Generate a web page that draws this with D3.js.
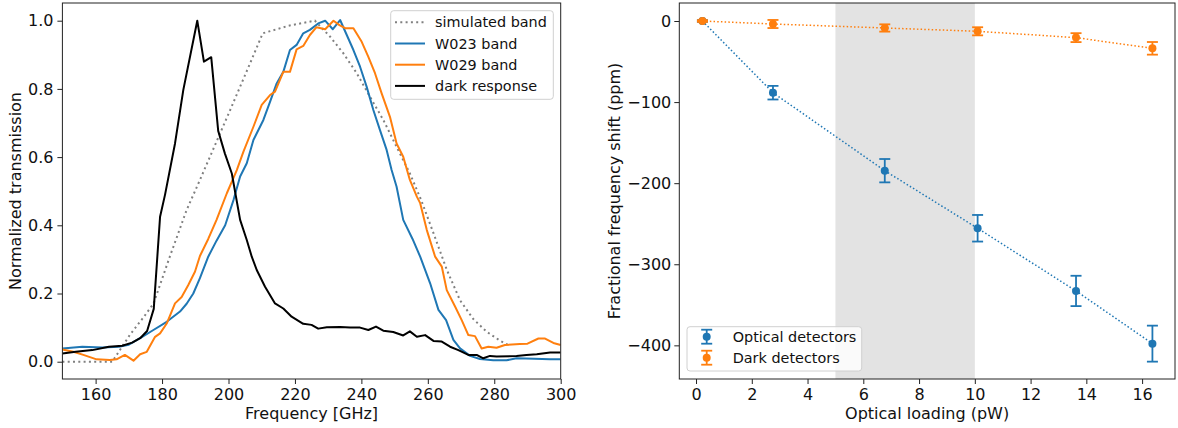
<!DOCTYPE html>
<html>
<head>
<meta charset="utf-8">
<script src="https://cdn.jsdelivr.net/npm/d3@7"></script>
<style>
  body { margin: 0; background: #fff; }
  svg { display: block; font-family: "DejaVu Sans", sans-serif; }
</style>
</head>
<body>
<svg id="chart" width="1178" height="428"></svg>
<script>
// ---------- Left panel data ----------
const simFreq = [150, 165, 170.4, 174.4, 177.4, 182.4, 187.4, 191.4, 200.5, 206.5, 210.3, 218, 226, 230.6, 234.6, 238.6, 242.6, 246.6, 250.6, 254.6, 258, 261.7, 265.7, 269.7, 273.7, 277.7, 281.7, 284];
const simVal  = [0, 0, 0.08, 0.13, 0.17, 0.31, 0.445, 0.533, 0.738, 0.875, 0.963, 0.985, 1.0, 0.953, 0.904, 0.846, 0.777, 0.709, 0.63, 0.552, 0.474, 0.377, 0.27, 0.18, 0.125, 0.088, 0.062, 0.05];

const w023Freq = [150, 156, 162, 167, 170, 173.4, 177.4, 181.4, 185.4, 187.4, 189.4, 191.4, 193.9, 196.4, 199, 201.5, 203.5, 205.5, 207.5, 210.5, 212.5, 214.5, 216.5, 218.5, 220.5, 222.5, 224.5, 227, 229.1, 231.4, 233.6, 235.6, 237.6, 239.6, 241.6, 243.6, 245.6, 247.6, 249.1, 250.6, 252.6, 255.4, 257.7, 260.7, 263.2, 265.5, 267.7, 269.7, 272.7, 275.7, 279.7, 283.7, 286.7, 292, 296.8, 300];
const w023Val  = [0.039, 0.044, 0.042, 0.044, 0.05, 0.069, 0.093, 0.117, 0.147, 0.17, 0.2, 0.245, 0.308, 0.355, 0.4, 0.474, 0.543, 0.582, 0.65, 0.709, 0.762, 0.816, 0.85, 0.914, 0.929, 0.963, 0.973, 0.992, 1.0, 0.975, 1.002, 0.958, 0.914, 0.865, 0.806, 0.738, 0.679, 0.621, 0.562, 0.513, 0.416, 0.36, 0.308, 0.23, 0.152, 0.122, 0.064, 0.039, 0.017, 0.008, 0.004, 0.004, 0.01, 0.009, 0.007, 0.007];

const w029Freq = [150, 153.3, 156.3, 160.3, 164.3, 166.3, 168.8, 171.4, 173.4, 175.4, 177.9, 179.4, 181.4, 183.9, 185.9, 187.9, 189.9, 191.4, 193.9, 196.4, 199.5, 202.5, 204.5, 207.5, 210, 212.5, 214, 216.5, 218.5, 220.5, 222.5, 224.5, 226.5, 229.1, 231.6, 233.4, 235.1, 237.6, 240.1, 242.1, 244.1, 246.1, 248.6, 250.6, 252.6, 254.6, 256.7, 257.7, 259.7, 262.2, 264.2, 265.7, 268.2, 270.2, 272.2, 274.2, 276.2, 278.2, 280.7, 283.2, 287.7, 290, 293.3, 295.3, 297.8, 300];
const w029Val  = [0.036, 0.029, 0.02, 0.007, 0.005, 0.007, 0.02, 0.003, 0.022, 0.029, 0.073, 0.083, 0.112, 0.171, 0.19, 0.225, 0.264, 0.31, 0.36, 0.416, 0.494, 0.562, 0.616, 0.689, 0.753, 0.782, 0.792, 0.85, 0.85, 0.916, 0.926, 0.958, 0.981, 0.975, 1.0, 0.987, 0.978, 0.978, 0.938, 0.894, 0.846, 0.787, 0.718, 0.64, 0.601, 0.533, 0.484, 0.465, 0.386, 0.308, 0.279, 0.21, 0.162, 0.122, 0.078, 0.075, 0.039, 0.044, 0.041, 0.049, 0.052, 0.053, 0.068, 0.068, 0.055, 0.049];

const darkFreq = [150, 154, 159, 164, 168, 171, 173.4, 175.5, 177.5, 179.4, 180.9, 183.9, 186.4, 190.6, 192.6, 194.8, 196.9, 198.9, 201, 203.5, 205.5, 207, 208.5, 211, 214, 216.5, 219, 222.5, 225, 227, 229.6, 233.6, 236.6, 239.6, 242.1, 244.4, 246.6, 249.6, 252.6, 254.6, 256.7, 259.2, 261.7, 264.2, 266.7, 269.2, 272.2, 274.7, 276.7, 278.7, 280.7, 286.7, 289.7, 292.8, 296.8, 300];
const darkVal  = [0.024, 0.029, 0.034, 0.044, 0.047, 0.056, 0.069, 0.09, 0.155, 0.425, 0.49, 0.64, 0.797, 1.0, 0.88, 0.893, 0.677, 0.611, 0.552, 0.416, 0.357, 0.308, 0.269, 0.22, 0.171, 0.156, 0.132, 0.111, 0.108, 0.097, 0.101, 0.102, 0.1, 0.1, 0.093, 0.103, 0.091, 0.087, 0.077, 0.089, 0.073, 0.078, 0.061, 0.059, 0.044, 0.034, 0.02, 0.02, 0.01, 0.017, 0.015, 0.017, 0.02, 0.022, 0.027, 0.027];

const leftXTicks = [160, 180, 200, 220, 240, 260, 280, 300];
const leftYTicks = [0, 0.2, 0.4, 0.6, 0.8, 1.0];
const leftLegendLabels = ["simulated band", "W023 band", "W029 band", "dark response"];

// ---------- Right panel data ----------
const loading = [0.23, 2.76, 6.77, 10.1, 13.63, 16.37];
const opticalShift = [0, -88.4, -184.6, -255.6, -332.9, -397.9];
const opticalErr   = [1, 8.4, 14.4, 16.4, 18.7, 22.2];
const darkShift    = [0, -3.7, -8.6, -12.7, -20.5, -33.7];
const darkErr      = [1, 5, 4.5, 5, 5.5, 7.8];
const spanRange    = [5, 10];
const rightXTicks = [0, 2, 4, 6, 8, 10, 12, 14, 16];
const rightYTicks = [0, -100, -200, -300, -400];
const rightLegendLabels = ["Optical detectors", "Dark detectors"];

const BLUE = "#1f77b4", ORANGE = "#ff7f0e";
const svg = d3.select("#chart");
const FS = 16;

function frame(g, x0, y0, x1, y1) {
  g.append("rect").attr("x", x0).attr("y", y0).attr("width", x1 - x0).attr("height", y1 - y0)
    .attr("fill", "none").attr("stroke", "#222").attr("stroke-width", 1);
}
function styleAxis(sel) {
  sel.select(".domain").remove();
  sel.selectAll(".tick line").attr("stroke", "#222").attr("stroke-width", 1);
  sel.selectAll(".tick text").attr("fill", "#111").style("font-size", FS + "px")
     .style("font-family", "DejaVu Sans, sans-serif");
}

// ================= LEFT =================
const L = {x0: 62.4, x1: 560.7, y0: 3, y1: 379};
const xL = d3.scaleLinear().domain([150, 300]).range([L.x0, L.x1]);
const yL = d3.scaleLinear().domain([-0.0507, 1.0519]).range([L.y1, L.y0]);

const gL = svg.append("g");
const clipL = svg.append("clipPath").attr("id", "clipL").append("rect")
  .attr("x", L.x0).attr("y", L.y0).attr("width", L.x1 - L.x0).attr("height", L.y1 - L.y0);

const lineL = (fx, vy) => d3.line().x((d, i) => xL(fx[i])).y((d, i) => yL(vy[i]))(fx);
const curves = gL.append("g").attr("clip-path", "url(#clipL)");
curves.append("path").attr("d", lineL(simFreq, simVal)).attr("fill", "none")
  .attr("stroke", "#808080").attr("stroke-width", 2).attr("stroke-dasharray", "2,3.3");
curves.append("path").attr("d", lineL(w023Freq, w023Val)).attr("fill", "none")
  .attr("stroke", BLUE).attr("stroke-width", 2).attr("stroke-linejoin", "round");
curves.append("path").attr("d", lineL(w029Freq, w029Val)).attr("fill", "none")
  .attr("stroke", ORANGE).attr("stroke-width", 2).attr("stroke-linejoin", "round");
curves.append("path").attr("d", lineL(darkFreq, darkVal)).attr("fill", "none")
  .attr("stroke", "#000").attr("stroke-width", 2).attr("stroke-linejoin", "round");

gL.append("g").attr("transform", `translate(0,${L.y1})`)
  .call(d3.axisBottom(xL).tickValues(leftXTicks).tickFormat(d3.format("d")).tickSize(5).tickPadding(4.6))
  .call(styleAxis);
gL.append("g").attr("transform", `translate(${L.x0},0)`)
  .call(d3.axisLeft(yL).tickValues(leftYTicks).tickFormat(d3.format(".1f")).tickSize(5).tickPadding(4))
  .call(styleAxis);
frame(gL, L.x0, L.y0, L.x1, L.y1);

gL.append("text").attr("x", (L.x0 + L.x1) / 2).attr("y", 419).attr("text-anchor", "middle")
  .style("font-size", FS + "px").attr("fill", "#111").text("Frequency [GHz]");
gL.append("text").attr("transform", `translate(15,${(L.y0 + L.y1) / 2}) rotate(-90)`).attr("dy", "0.35em")
  .attr("text-anchor", "middle").style("font-size", FS + "px").attr("fill", "#111").text("Normalized transmission");

// legend left
const legL = gL.append("g");
legL.append("rect").attr("x", 390.7).attr("y", 10.7).attr("width", 162.6).attr("height", 88.6)
  .attr("rx", 3).attr("fill", "#fff").attr("fill-opacity", 0.8).attr("stroke", "#d0d0d0");
const legStyles = [
  {c: "#808080", dash: "2,3.3"}, {c: BLUE, dash: null}, {c: ORANGE, dash: null}, {c: "#000", dash: null}
];
leftLegendLabels.forEach((lab, i) => {
  const yy = 22.3 + i * 21.2;
  const ln = legL.append("line").attr("x1", 395).attr("x2", 425).attr("y1", yy).attr("y2", yy)
    .attr("stroke", legStyles[i].c).attr("stroke-width", 2);
  if (legStyles[i].dash) ln.attr("stroke-dasharray", legStyles[i].dash);
  legL.append("text").attr("x", 435).attr("y", yy).attr("dy", "0.35em")
    .style("font-size", "14.4px").attr("fill", "#111").text(lab);
});

// ================= RIGHT =================
const R = {x0: 679.3, x1: 1175, y0: 3, y1: 379};
const xR = d3.scaleLinear().domain([-0.6, 17.18]).range([R.x0, R.x1]);
const yR = d3.scaleLinear().domain([-441.5, 22.2]).range([R.y1, R.y0]);
const gR = svg.append("g");

gR.append("rect").attr("x", xR(spanRange[0])).attr("y", R.y0)
  .attr("width", xR(spanRange[1]) - xR(spanRange[0])).attr("height", R.y1 - R.y0)
  .attr("fill", "#e3e3e3");

function series(vals, errs, color) {
  const g = gR.append("g");
  g.append("path").attr("d", d3.line().x((d, i) => xR(loading[i])).y((d, i) => yR(vals[i]))(loading))
    .attr("fill", "none").attr("stroke", color).attr("stroke-width", 1.5).attr("stroke-dasharray", "1.5,2.2");
  loading.forEach((lx, i) => {
    const cx = xR(lx), top = yR(vals[i] + errs[i]), bot = yR(vals[i] - errs[i]);
    g.append("line").attr("x1", cx).attr("x2", cx).attr("y1", top).attr("y2", bot)
      .attr("stroke", color).attr("stroke-width", 1.8);
    [top, bot].forEach(yy => g.append("line").attr("x1", cx - 5.5).attr("x2", cx + 5.5)
      .attr("y1", yy).attr("y2", yy).attr("stroke", color).attr("stroke-width", 1.8));
    g.append("circle").attr("cx", cx).attr("cy", yR(vals[i])).attr("r", 4).attr("fill", color);
  });
}
series(opticalShift, opticalErr, BLUE);
series(darkShift, darkErr, ORANGE);

gR.append("g").attr("transform", `translate(0,${R.y1})`)
  .call(d3.axisBottom(xR).tickValues(rightXTicks).tickFormat(d3.format("d")).tickSize(5).tickPadding(4.6))
  .call(styleAxis);
gR.append("g").attr("transform", `translate(${R.x0},0)`)
  .call(d3.axisLeft(yR).tickValues(rightYTicks).tickFormat(d => d < 0 ? "\u2212" + Math.abs(d) : String(d)).tickSize(5).tickPadding(3))
  .call(styleAxis);
frame(gR, R.x0, R.y0, R.x1, R.y1);

gR.append("text").attr("x", (R.x0 + R.x1) / 2).attr("y", 419).attr("text-anchor", "middle")
  .style("font-size", FS + "px").attr("fill", "#111").text("Optical loading (pW)");
gR.append("text").attr("transform", `translate(614,${(R.y0 + R.y1) / 2}) rotate(-90)`).attr("dy", "0.35em")
  .attr("text-anchor", "middle").style("font-size", FS + "px").attr("fill", "#111").text("Fractional frequency shift (ppm)");

// legend right
const legR = gR.append("g");
legR.append("rect").attr("x", 687).attr("y", 326.7).attr("width", 174.7).attr("height", 44.3)
  .attr("rx", 3).attr("fill", "#fff").attr("fill-opacity", 0.8).attr("stroke", "#d0d0d0");
[BLUE, ORANGE].forEach((c, i) => {
  const yy = 336.7 + i * 21;
  const mx = 706.7;
  legR.append("line").attr("x1", mx).attr("x2", mx).attr("y1", yy - 7).attr("y2", yy + 7)
    .attr("stroke", c).attr("stroke-width", 1.8);
  [yy - 7, yy + 7].forEach(v => legR.append("line").attr("x1", mx - 5.5).attr("x2", mx + 5.5)
    .attr("y1", v).attr("y2", v).attr("stroke", c).attr("stroke-width", 1.8));
  legR.append("circle").attr("cx", mx).attr("cy", yy).attr("r", 4).attr("fill", c);
  legR.append("text").attr("x", 732.7).attr("y", yy).attr("dy", "0.35em")
    .style("font-size", "14.4px").attr("fill", "#111").text(rightLegendLabels[i]);
});
</script>
</body>
</html>
